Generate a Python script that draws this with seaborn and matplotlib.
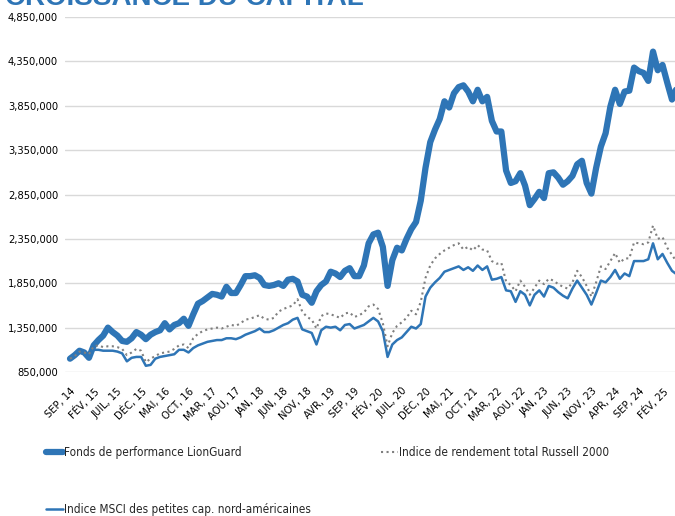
import numpy as np
import seaborn as sns
import matplotlib.pyplot as plt
from matplotlib import font_manager
from matplotlib.ticker import FuncFormatter

# valeurs mensuelles en milliers de $, de sept. 2014 a mai 2025
fund = [1000, 1040, 1090, 1070, 1010, 1150, 1210, 1260, 1350, 1300,
        1260, 1200, 1190, 1230, 1300, 1270, 1220, 1270, 1300, 1320,
        1400, 1330, 1380, 1400, 1450, 1370, 1500, 1620, 1650, 1690,
        1730, 1720, 1700, 1810, 1740, 1740, 1830, 1930, 1930, 1940,
        1910, 1830, 1820, 1830, 1850, 1820, 1890, 1900, 1870, 1720,
        1700, 1630, 1760, 1830, 1870, 1980, 1960, 1920, 1990, 2020,
        1930, 1930, 2050, 2300, 2400, 2420, 2260, 1820, 2110, 2250,
        2220, 2350, 2460, 2540, 2780, 3150, 3440, 3580, 3700, 3900,
        3830, 3990, 4060, 4080, 4010, 3900, 4030, 3900, 3950, 3680,
        3560, 3560, 3120, 2980, 3000, 3090, 2950, 2730, 2800, 2880,
        2810, 3090, 3100, 3040, 2960, 3000, 3060, 3190, 3230, 2980,
        2860, 3150, 3390, 3540, 3840, 4030, 3870, 4010, 4020, 4280,
        4240, 4220, 4130, 4460, 4250, 4310, 4110, 3920, 4050]

russell = [1000, 1030, 1080, 1070, 1050, 1140, 1150, 1130, 1140, 1140,
           1130, 1110, 1040, 1070, 1110, 1090, 960, 1000, 1030, 1060,
           1070, 1080, 1110, 1150, 1160, 1120, 1230, 1280, 1310, 1330,
           1340, 1350, 1340, 1360, 1380, 1370, 1400, 1440, 1450, 1470,
           1490, 1450, 1440, 1460, 1530, 1560, 1580, 1600, 1670, 1530,
           1470, 1440, 1340, 1480, 1510, 1500, 1480, 1460, 1510, 1520,
           1470, 1490, 1520, 1590, 1610, 1560, 1400, 1140, 1290, 1370,
           1410, 1460, 1540, 1500, 1640, 1910, 2050, 2130, 2180, 2220,
           2250, 2280, 2300, 2230, 2260, 2220, 2280, 2230, 2220, 2100,
           2070, 2080, 1870, 1830, 1760, 1880, 1810, 1720, 1800, 1880,
           1840, 1900, 1880, 1840, 1810, 1790, 1860, 1990, 1920, 1820,
           1700, 1860, 2040, 2010, 2100, 2190, 2080, 2130, 2130, 2310,
           2300, 2290, 2310, 2500, 2350, 2370, 2250, 2170, 2090]

msci = [1000, 1040, 1070, 1060, 1030, 1100, 1100, 1090, 1090, 1090,
        1080, 1060, 970, 1010, 1020, 1020, 920, 930, 1000, 1020,
        1030, 1040, 1050, 1100, 1100, 1070, 1120, 1150, 1170, 1190,
        1200, 1210, 1210, 1230, 1230, 1220, 1240, 1270, 1290, 1310,
        1340, 1300, 1300, 1320, 1350, 1380, 1400, 1440, 1460, 1330,
        1310, 1290, 1160, 1320, 1360, 1350, 1360, 1320, 1380, 1390,
        1340, 1360, 1380, 1420, 1460, 1420, 1310, 1020, 1160, 1210,
        1240, 1300, 1360, 1340, 1390, 1700, 1800, 1860, 1910, 1980,
        2000, 2020, 2040, 2000, 2030, 1990, 2050, 2000, 2040, 1890,
        1900, 1920, 1770, 1760, 1640, 1760, 1720, 1600, 1720, 1770,
        1700, 1820, 1800, 1750, 1710, 1680, 1790, 1880, 1800, 1720,
        1610, 1740, 1880, 1860, 1920, 2000, 1900, 1960, 1930, 2100,
        2100, 2100, 2120, 2300, 2120, 2180, 2080, 1990, 1950]

tick_labels = ["SEP, 14", "FÉV, 15", "JUIL, 15", "DÉC, 15", "MAI, 16", "OCT, 16",
               "MAR, 17", "AOU, 17", "JAN, 18", "JUN, 18", "NOV, 18", "AVR, 19",
               "SEP, 19", "FÉV, 20", "JUIL, 20", "DÉC, 20", "MAI, 21", "OCT, 21",
               "MAR, 22", "AOU, 22", "JAN, 23", "JUN, 23", "NOV, 23", "APR, 24",
               "SEP, 24", "FÉV, 25"]

names = ["Fonds de performance LionGuard",
         "Indice de rendement total Russell 2000",
         "Indice MSCI des petites cap. nord-américaines"]

blue = "#2E75B6"
grey = "#7F7F7F"

sns.set_theme(style="white")

# chercher une police etroite (le modele ressemble a du Calibri)
installed = font_manager.fontManager.ttflist
font_names = {f.name for f in installed}
cond_files = [f for f in installed if f.stretch in ('condensed', 'semi-condensed')
              and f.weight in (400, 'normal', 'regular')]
choices = [('Liberation Sans Narrow', 8.6, 9.2, None),
           ('Noto Sans Condensed', 8.6, 9.2, None),
           ('DejaVu Sans Condensed', 7.8, 8.3, None),
           ('Noto Sans SemiCondensed', 8.0, 8.5, None)]
picked = None
for name, ts, ls, st in choices:
    if name in font_names:
        picked = (name, ts, ls, st)
        break
if picked is None and cond_files:
    picked = (cond_files[0].name, 8.0, 8.5, cond_files[0].stretch)
if picked is None:
    picked = ('Liberation Sans', 7.2, 7.3, None)

plt.rcParams['font.family'] = [picked[0], 'DejaVu Sans']
if picked[3]:
    plt.rcParams['font.stretch'] = picked[3]
tick_size, leg_size = picked[1], picked[2]

fig = plt.figure(figsize=(6.75, 5.16), dpi=100)
ax = fig.add_axes([65 / 675, 1 - 372 / 516, 1 - 65 / 675, 355 / 516])

months = np.arange(len(fund))
sns.lineplot(x=months, y=np.array(fund) * 1000, ax=ax, color=blue, lw=4.5,
             solid_capstyle='round', solid_joinstyle='round', label=names[0])
sns.lineplot(x=months, y=np.array(msci) * 1000, ax=ax, color=blue, lw=1.8,
             label=names[2])
sns.lineplot(x=months, y=np.array(russell) * 1000, ax=ax, color=grey, lw=1.5,
             linestyle=':', label=names[1])

ax.set_xlim(-5 / 4.74, 605 / 4.74)
ax.set_ylim(850000, 4850000)
ax.set_yticks(np.arange(850000, 4850001, 500000))
ax.yaxis.set_major_formatter(FuncFormatter(lambda v, p: f"{v:,.0f}"))
ax.set_xticks(months[::5][:len(tick_labels)])
ax.set_xticklabels(tick_labels, rotation=45, ha='right', rotation_mode='anchor')
ax.tick_params(axis='both', length=0, labelsize=tick_size, colors='black')
ax.tick_params(axis='x', labelsize=8, pad=10)
ax.tick_params(axis='y', pad=5)
ax.grid(axis='y', color='#D9D9D9', lw=1)
ax.grid(axis='x', visible=False)
sns.despine(ax=ax, left=True, bottom=True)

handles, labels = ax.get_legend_handles_labels()
ax.get_legend().remove()
fig.legend(handles, labels, loc='upper left', bbox_to_anchor=(46 / 675, 1 - 446 / 516),
           ncol=2, frameon=False, fontsize=leg_size, handlelength=1.4, handletextpad=0.1,
           labelspacing=3.75, columnspacing=6.0, borderpad=0, borderaxespad=0)

fig.text(5 / 675, 1 - 5 / 516, "CROISSANCE DU CAPITAL", fontsize=20,
         fontweight='bold', color=blue, va='baseline', family=['Liberation Sans', 'DejaVu Sans'])

fig.savefig("out.png", dpi=100)
